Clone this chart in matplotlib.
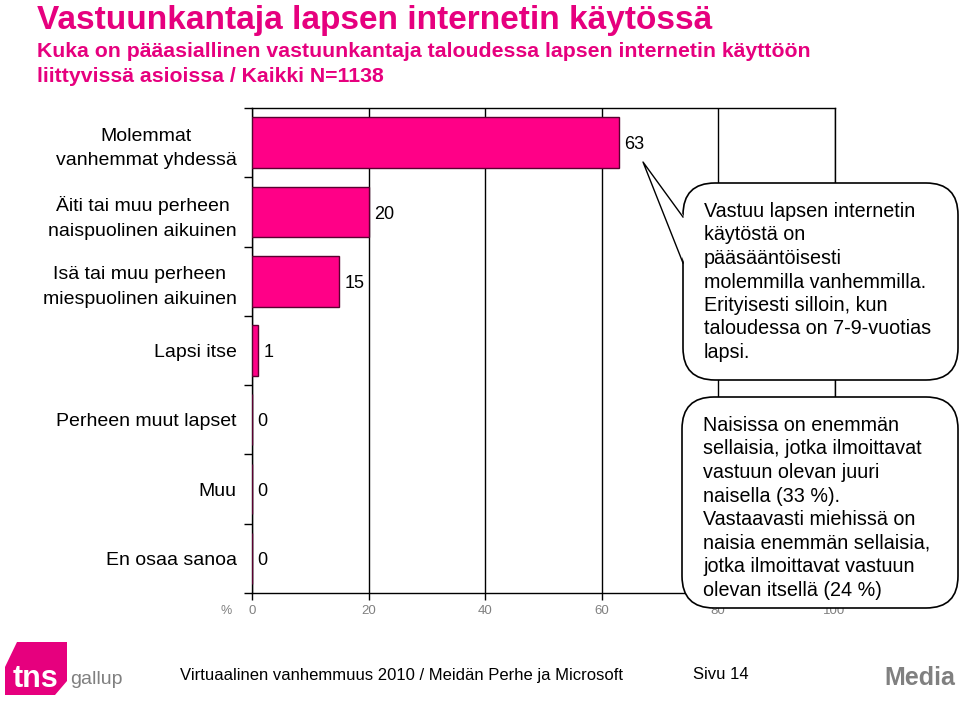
import matplotlib.pyplot as plt
from matplotlib.patches import FancyBboxPatch, Polygon

# Chart data
categories = [
    "Molemmat\nvanhemmat yhdessä",
    "Äiti tai muu perheen\nnaispuolinen aikuinen",
    "Isä tai muu perheen\nmiespuolinen aikuinen",
    "Lapsi itse",
    "Perheen muut lapset",
    "Muu",
    "En osaa sanoa",
]
values = [63, 20, 15, 1, 0, 0, 0]
x_ticks = [0, 20, 40, 60, 80, 100]

title = "Vastuunkantaja lapsen internetin käytössä"
subtitle_lines = ["Kuka on pääasiallinen vastuunkantaja taloudessa lapsen internetin käyttöön",
                  "liittyvissä asioissa / Kaikki N=1138"]
note1 = ("Vastuu lapsen internetin\nkäytöstä on\npääsääntöisesti\nmolemmilla vanhemmilla.\n"
         "Erityisesti silloin, kun\ntaloudessa on 7-9-vuotias\nlapsi.")
note2 = ("Naisissa on enemmän\nsellaisia, jotka ilmoittavat\nvastuun olevan juuri\nnaisella (33 %).\n"
         "Vastaavasti miehissä on\nnaisia enemmän sellaisia,\njotka ilmoittavat vastuun\nolevan itsellä (24 %)")
footer = "Virtuaalinen vanhemmuus 2010 / Meidän Perhe ja Microsoft"
page = "Sivu 14"

PINK = "#FF0087"
TITLE_PINK = "#E6007E"
GREY = "#808080"
SANS = ["Liberation Sans", "DejaVu Sans"]
NARROW = ["Liberation Sans Narrow", "Liberation Sans", "DejaVu Sans"]

plt.rcParams["font.family"] = SANS

fig = plt.figure(figsize=(9.6, 7.01), dpi=100)
W, H = 960, 701

# main bar axes
ax = fig.add_axes([252 / W, 1 - 593 / H, 582.5 / W, 485 / H])
ypos = [i + 0.5 for i in range(len(categories))]
ax.barh(ypos, values, height=0.73, color=PINK, edgecolor="#5A0030", linewidth=1, zorder=3)
for y, v in zip(ypos, values):
    ax.annotate(str(v), (v, y), xytext=(4, -1.5), textcoords="offset points",
                va="center", ha="left", fontsize=13, color="black")

ax.set_xlim(0, 100)
ax.set_ylim(len(categories), 0)
ax.set_xticks(x_ticks)
ax.set_xticklabels([str(t) for t in x_ticks], color=GREY, fontsize=9.5, family=NARROW)
ax.tick_params(axis="x", direction="out", length=5, width=1, pad=4)
ax.set_yticks(range(len(categories) + 1))
ax.set_yticklabels([])
ax.tick_params(axis="y", which="major", direction="out", length=6, width=1)
ax.set_yticks(ypos, minor=True)
ax.set_yticklabels(categories, minor=True, fontsize=14, multialignment="center", linespacing=1.6)
ax.tick_params(axis="y", which="minor", length=0, pad=11)
ax.grid(axis="x", color="black", linewidth=1, zorder=1)
for s in ax.spines.values():
    s.set_color("black")
    s.set_linewidth(1)

# overlay in pixel coordinates for titles, callouts and footer
ov = fig.add_axes([0, 0, 1, 1], zorder=5)
ov.set_xlim(0, W)
ov.set_ylim(H, 0)
ov.axis("off")
ov.patch.set_alpha(0)

ov.text(37, 29, title, fontsize=24, fontweight="bold", color=TITLE_PINK,
        family=NARROW, va="baseline")
ov.text(37, 57, subtitle_lines[0], fontsize=15.3, fontweight="bold", color=TITLE_PINK,
        family=NARROW, va="baseline")
ov.text(37, 82, subtitle_lines[1], fontsize=15.3, fontweight="bold", color=TITLE_PINK,
        family=NARROW, va="baseline")
ov.text(226, 611, "%", fontsize=9, color=GREY, va="center", ha="center")


def callout(x0, y0, x1, y1, text, tip=None):
    box = FancyBboxPatch((x0, y0), x1 - x0, y1 - y0,
                         boxstyle="round,pad=0,rounding_size=32",
                         facecolor="white", edgecolor="black", linewidth=1.2)
    ov.add_patch(box)
    if tip is not None:
        (tx, ty), b0, b1 = tip
        ov.add_patch(Polygon([(tx, ty), (x0 + 1.5, b0), (x0 + 1.5, b1)],
                             closed=True, facecolor="white", edgecolor="none"))
        ov.plot([x0, tx, x0], [b0, ty, b1], color="black", linewidth=1)
    ov.text(x0 + 21, y0 + 19, text, fontsize=14.2, va="top", ha="left",
            linespacing=1.3)


callout(683, 183, 958, 380, note1, tip=((643, 162), 217, 263))
callout(682, 397, 958, 608, note2)

# footer
ov.add_patch(Polygon([(5, 667), (17, 642), (67, 642), (67, 681), (55, 695), (5, 695)],
                     closed=True, facecolor=TITLE_PINK, edgecolor="none"))
ov.text(13, 687, "tns", fontsize=22, fontweight="bold", color="white", va="baseline")
ov.text(70, 684, "gallup", fontsize=14, color=GREY, va="baseline", family=NARROW)
ov.text(180, 680, footer, fontsize=12, color="black", va="baseline", family=NARROW)
ov.text(693, 679, page, fontsize=12, color="black", va="baseline", family=NARROW)
ov.text(955, 685, "Media", fontsize=18, fontweight="bold", color=GREY,
        va="baseline", ha="right", family=NARROW)

fig.savefig("out.png", dpi=100)
